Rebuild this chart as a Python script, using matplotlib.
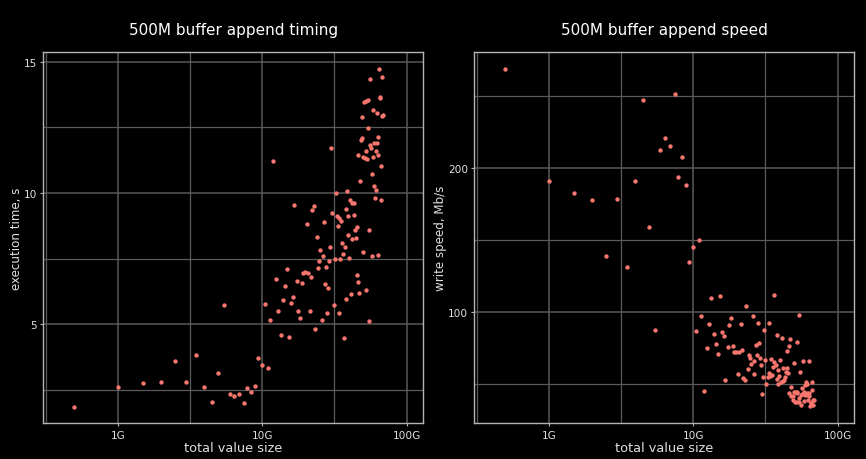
import matplotlib
matplotlib.use("Agg")
import matplotlib.pyplot as plt
from matplotlib.ticker import FixedLocator, NullFormatter

# total value size (G)
size_g = [0.498, 1.0, 1.49, 2.0, 2.48, 2.99, 3.47, 3.98, 4.46, 4.96,
          5.45, 5.94, 6.43, 6.93, 7.43, 7.91, 8.43, 8.94, 9.37, 9.95,
          10.4, 10.9, 11.9, 11.4, 12.4, 12.9, 13.4, 13.9, 14.4, 14.8,
          15.4, 15.8, 16.3, 16.7, 17.3, 17.8, 18.3, 18.8, 19.2, 19.9,
          20.3, 20.8, 21.3, 21.8, 22.3, 22.8, 23.3, 23.8, 24.3, 24.8,
          25.2, 25.8, 26.3, 26.6, 27.2, 27.8, 28.2, 28.6, 29.1, 29.6,
          30.2, 30.5, 31.2, 31.7, 32.2, 32.9, 33.3, 33.8, 34.3, 34.7,
          35.1, 35.6, 36.2, 36.6, 37.2, 37.8, 38.2, 38.6, 39.0, 39.5,
          40.1, 40.5, 41.1, 41.8, 42.2, 42.9, 43.4, 44.1, 44.8, 45.0,
          45.5, 46.0, 46.3, 47.0, 47.8, 48.0, 48.8, 49.0, 49.8, 50.3,
          50.9, 51.4, 52.0, 52.2, 52.5, 52.8, 53.7, 54.2, 54.5, 55.1,
          55.7, 56.0, 56.6, 57.2, 57.8, 58.4, 59.0, 59.4, 59.7, 60.3,
          61.0, 61.4, 62.0, 62.3, 63.0, 63.3, 63.6, 64.3, 65.0, 65.7,
          66.1, 66.8, 67.5, 67.8, 68.2]

exec_time = [1.86, 2.62, 2.74, 2.81, 3.61, 2.80, 3.82, 2.62, 2.02, 3.14,
             5.73, 2.35, 2.26, 2.32, 1.99, 2.58, 2.41, 2.66, 3.71, 3.45,
             5.77, 3.33, 11.21, 5.15, 6.71, 5.49, 4.57, 5.91, 6.44, 7.09,
             4.51, 5.81, 6.02, 9.53, 6.63, 5.51, 5.24, 6.58, 6.93, 6.97,
             8.83, 6.96, 5.49, 6.80, 9.35, 9.50, 4.80, 8.32, 7.14, 7.41,
             7.82, 5.15, 7.59, 8.88, 6.52, 7.19, 5.44, 6.38, 7.41, 7.95,
             11.73, 9.22, 5.72, 7.50, 10.0, 9.13, 8.75, 5.44, 9.06, 7.49,
             8.92, 8.11, 7.68, 4.48, 7.93, 5.96, 9.37, 10.06, 8.39, 9.11,
             7.52, 9.74, 6.13, 9.63, 8.26, 9.60, 9.17, 8.59, 8.27, 6.87,
             8.72, 11.43, 6.59, 6.19, 10.45, 12.03, 12.89, 12.08, 7.74, 11.37,
             13.46, 11.32, 11.60, 6.31, 13.51, 11.31, 13.56, 12.48, 5.11, 8.57,
             11.81, 14.33, 11.71, 10.71, 7.59, 11.38, 13.15, 11.89, 10.26, 9.79,
             11.60, 10.13, 13.03, 11.92, 11.43, 7.65, 12.13, 14.72, 13.66, 13.62,
             11.02, 9.75, 12.94, 14.42, 12.98]

write_speed = [268.8, 190.8, 182.5, 177.9, 138.5, 178.6, 130.9, 190.8, 247.5, 159.2,
               87.3, 212.8, 221.2, 215.5, 251.3, 193.8, 207.5, 188.0, 134.8, 144.9,
               86.7, 150.2, 44.6, 97.1, 74.5, 91.1, 109.4, 84.6, 77.6, 70.5,
               110.9, 86.1, 83.1, 52.5, 75.4, 90.7, 95.4, 76.0, 72.2, 71.7,
               56.6, 71.8, 91.1, 73.5, 53.5, 52.6, 104.2, 60.1, 70.0, 67.5,
               63.9, 97.1, 65.9, 56.3, 76.7, 69.5, 91.9, 78.4, 67.5, 62.9,
               42.6, 54.2, 87.4, 66.7, 50.0, 54.8, 57.1, 91.9, 55.2, 66.8,
               56.1, 61.7, 65.1, 111.6, 63.1, 83.9, 53.4, 49.7, 59.6, 54.9,
               66.5, 51.3, 81.6, 51.9, 60.5, 52.1, 54.5, 58.2, 60.5, 72.8,
               57.3, 43.7, 75.9, 80.8, 47.8, 41.6, 38.8, 41.4, 64.6, 44.0,
               37.1, 44.2, 43.1, 79.2, 37.0, 44.2, 36.9, 40.1, 97.8, 58.3,
               42.3, 34.9, 42.7, 46.7, 65.9, 43.9, 38.0, 42.1, 48.7, 51.1,
               43.1, 49.4, 38.4, 41.9, 43.7, 65.4, 41.2, 34.0, 36.6, 36.7,
               45.4, 51.3, 38.6, 34.7, 38.5]

x_ticks = [1e9, 1e10, 1e11]
x_tick_labels = ["1G", "10G", "100G"]
x_minor = [10**8.5, 10**9.5, 10**10.5]
time_ticks = [5, 10, 15]
time_minor = [2.5, 7.5, 12.5]
speed_ticks = [100, 200]
speed_minor = [50, 150, 250]

titles = ["500M buffer append timing", "500M buffer append speed"]
ylabels = ["execution time, s", "write speed, Mb/s"]
xlabel = "total value size"

size = [v * 1e9 for v in size_g]

BG = "black"
GRID = "#5a5a5a"
TXT = "#e0e0e0"
PT = "#F8766D"

plt.rcParams["font.family"] = ["DejaVu Sans"]
fig = plt.figure(figsize=(8.66, 4.60), dpi=100, facecolor=BG)

axes_rects = [[0.0500, 0.0776, 0.4385, 0.8065],
              [0.5477, 0.0776, 0.4384, 0.8065]]
series = [exec_time, write_speed]
yticks = [time_ticks, speed_ticks]
yminor = [time_minor, speed_minor]
ylims = [(1.22, 15.36), (22.3, 280.5)]

for i in range(2):
    ax = fig.add_axes(axes_rects[i])
    ax.set_facecolor(BG)
    ax.set_xscale("log")
    ax.set_xlim(3.05e8, 1.30e11)
    ax.set_ylim(*ylims[i])
    ax.xaxis.set_major_locator(FixedLocator(x_ticks))
    ax.set_xticklabels(x_tick_labels)
    ax.xaxis.set_minor_locator(FixedLocator(x_minor))
    ax.xaxis.set_minor_formatter(NullFormatter())
    ax.yaxis.set_major_locator(FixedLocator(yticks[i]))
    ax.set_yticklabels([str(v) for v in yticks[i]])
    ax.yaxis.set_minor_locator(FixedLocator(yminor[i]))
    ax.yaxis.set_minor_formatter(NullFormatter())
    ax.grid(True, which="major", color=GRID, linewidth=1.1)
    ax.grid(True, which="minor", color=GRID, linewidth=0.9)
    ax.set_axisbelow(True)
    for sp in ax.spines.values():
        sp.set_color("#b5b5b5")
        sp.set_linewidth(1.0)
    ax.tick_params(which="major", length=2.5, width=0.8, color="#b5b5b5",
                   labelcolor=TXT, labelsize=7.6, pad=2)
    ax.tick_params(which="minor", length=0)
    ax.scatter(size, series[i], s=10, color=PT, linewidths=0, zorder=3)
    ax.set_title(titles[i], color="white", fontsize=11, pad=13)
    ax.set_xlabel(xlabel, color=TXT, fontsize=9.3, labelpad=1)
    ax.set_ylabel(ylabels[i], color=TXT, fontsize=8.6, labelpad=0.5)

fig.savefig("out.png", dpi=100, facecolor=BG)
